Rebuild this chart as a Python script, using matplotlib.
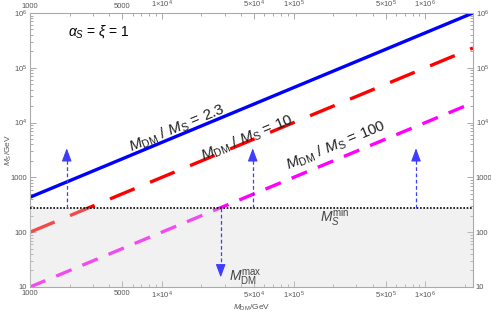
import matplotlib
matplotlib.use("Agg")
import matplotlib.pyplot as plt

plt.rcParams['font.family'] = ['Liberation Sans', 'DejaVu Sans']
plt.rcParams['mathtext.fontset'] = 'custom'
plt.rcParams['mathtext.rm'] = 'Liberation Sans'
plt.rcParams['mathtext.it'] = 'Liberation Sans:italic'

# data
mdm_range = [1000, 2.3e6]          # M_DM / GeV, ends of the plotted lines
ratios = [2.3, 10, 100]            # M_DM / M_S for each line
line_colors = ['#0000ff', '#ff0000', '#ff00ff']
ms_min = 280                       # M_S^min / GeV
mdm_max = 28000                    # M_DM^max / GeV
ms_arrow_bottom = 15               # where the downward arrow ends
arrow_up_x = [1900, 49000, 850000]
arrow_up_top = 3400

xtick_vals = [1000, 5000, 1e4, 5e4, 1e5, 5e5, 1e6]
xtick_labels = ['1000', '5000', r'1$\times$10$^4$', r'5$\times$10$^4$',
                r'1$\times$10$^5$', r'5$\times$10$^5$', r'1$\times$10$^6$']
ytick_vals = [10, 100, 1000, 1e4, 1e5, 1e6]
ytick_labels = ['10', '100', '1000', r'10$^4$', r'10$^5$', r'10$^6$']

# label positions (data coords) for each ratio line
label_pos = [(13100, 7950), (44200, 5200), (211000, 3740)]
label_texts = [r'$M_{\rm DM}\ /\ M_{\rm S}$ = 2.3',
               r'$M_{\rm DM}\ /\ M_{\rm S}$ = 10',
               r'$M_{\rm DM}\ /\ M_{\rm S}$ = 100']

fig = plt.figure(figsize=(4.91, 3.14), dpi=100)
ax = fig.add_axes([0.0611, 0.086, 0.9022, 0.8726])
ax.set_xscale('log')
ax.set_yscale('log')
ax.set_xlim(mdm_range)
ax.set_ylim(10, 1e6)

styles = ['-', (0, (8, 5)), (0, (5, 3.5))]
for r, c, ls in zip(ratios, line_colors, styles):
    ms = [m / r for m in mdm_range]
    ax.plot(mdm_range, ms, color=c, lw=2.4, linestyle=ls, zorder=2,
            solid_capstyle='butt', dash_capstyle='butt')

# shaded excluded region, drawn over the lines
ax.fill_between(mdm_range, [10, 10], [ms_min, ms_min], color='#d9d9d9',
                alpha=0.35, lw=0, zorder=3)
ax.axhline(ms_min, color='black', lw=1.2, linestyle=(0, (1, 1)), zorder=4)

arrow_color = '#3d3dff'
head = dict(arrowstyle='-|>,head_length=0.8,head_width=0.3', color=arrow_color,
            lw=0.8, mutation_scale=10, shrinkA=0, shrinkB=0)
for x in arrow_up_x:
    ax.plot([x, x], [ms_min, arrow_up_top * 0.8], color=arrow_color, lw=0.9,
            linestyle=(0, (3, 2)), zorder=5)
    ax.annotate('', xy=(x, arrow_up_top), xytext=(x, arrow_up_top * 0.75),
                arrowprops=head, zorder=5)
ax.plot([mdm_max, mdm_max], [ms_min, ms_arrow_bottom * 1.2], color=arrow_color,
        lw=0.9, linestyle=(0, (3, 2)), zorder=5)
ax.annotate('', xy=(mdm_max, ms_arrow_bottom),
            xytext=(mdm_max, ms_arrow_bottom * 1.3), arrowprops=head, zorder=5)

for (x, y), t in zip(label_pos, label_texts):
    ax.text(x, y, t, fontsize=11, rotation=22.5, ha='center', va='center',
            rotation_mode='anchor', color='#222222', zorder=6)

ax.text(1940, 4.5e5, r'$\alpha_S$ = $\xi$ = 1', fontsize=10, ha='left',
        va='center', color='black')
ax.text(207000, 186, r'$M_S^{\rm min}$', fontsize=10, ha='center', va='center',
        color='#444444', zorder=6)
ax.text(32300, 14.5, r'$M_{\rm DM}^{\rm max}$', fontsize=10, ha='left',
        va='center', color='#444444', zorder=6)

ax.set_xlabel(r'$M_{\rm DM}$/GeV', fontsize=6, color='#555555')
ax.set_ylabel(r'$M_S$/GeV', fontsize=6, color='#555555')
ax.xaxis.set_label_coords(0.5, -0.058)
ax.yaxis.set_label_coords(-0.035, 0.5)

ax.set_xticks(xtick_vals)
ax.set_xticklabels(xtick_labels)
ax.set_yticks(ytick_vals)
ax.set_yticklabels(ytick_labels)
ax.tick_params(which='both', direction='in', top=True, right=True,
               labeltop=True, labelright=True, colors='#999999',
               labelcolor='#555555', labelsize=5.5, width=0.6, pad=2)
ax.tick_params(which='major', length=4)
ax.tick_params(which='minor', length=2)
for s in ax.spines.values():
    s.set_color('#aaaaaa')
    s.set_linewidth(0.8)

fig.savefig('out.png', dpi=100)
